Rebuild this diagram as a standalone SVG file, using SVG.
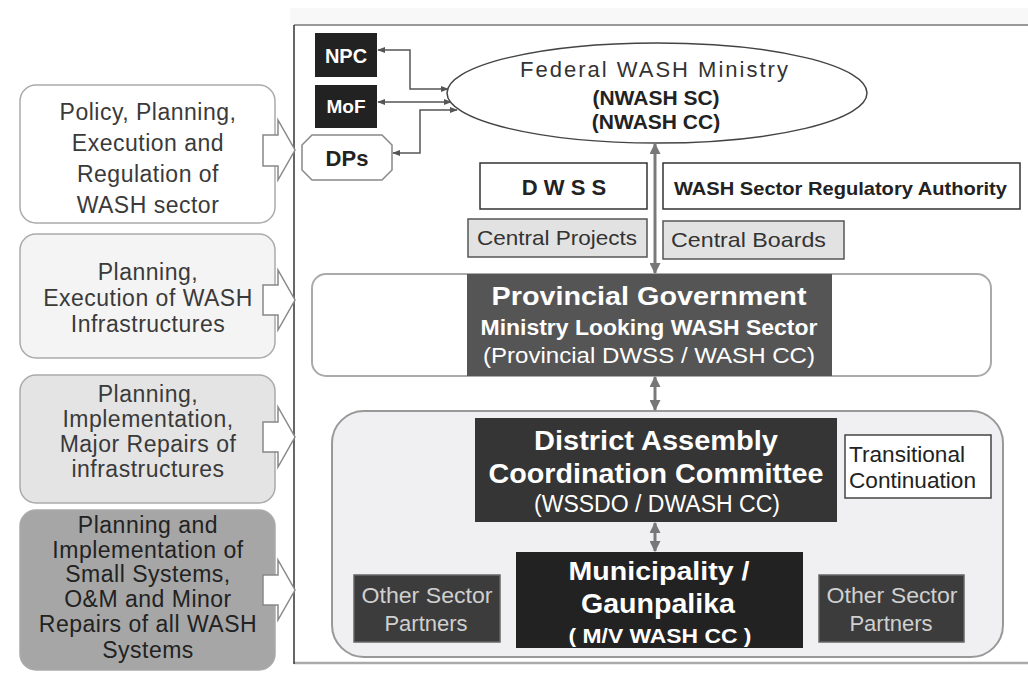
<svg xmlns="http://www.w3.org/2000/svg" width="1028" height="675" viewBox="0 0 1028 675">
<defs>
<style>
.t{font-family:"Liberation Sans",Arial,sans-serif;}
.lp{font-family:"Liberation Sans",Arial,sans-serif;font-size:23px;fill:#3a3a3a;text-anchor:middle;letter-spacing:0.5px;}
.wb{font-family:"Liberation Sans",Arial,sans-serif;font-weight:bold;fill:#fff;text-anchor:middle;}
.wn{font-family:"Liberation Sans",Arial,sans-serif;font-weight:normal;fill:#fff;text-anchor:middle;}
.lbox{stroke:#aaa;stroke-width:1.5;}
.barrow{fill:#fff;stroke:#888;stroke-width:1.5;}
.conn{fill:none;stroke:#555;stroke-width:1.5;}
.vconn{fill:none;stroke:#7a7a7a;stroke-width:3;}
</style>
<marker id="ah" viewBox="0 0 10 10" refX="9" refY="5" markerWidth="8" markerHeight="8" orient="auto-start-reverse" markerUnits="userSpaceOnUse"><path d="M0,1 L10,5 L0,9 z" fill="#555"/></marker>
<marker id="vh" viewBox="0 0 10 10" refX="9" refY="5" markerWidth="11" markerHeight="11" orient="auto-start-reverse" markerUnits="userSpaceOnUse"><path d="M0,0 L10,5 L0,10 z" fill="#777"/></marker>
</defs>
<rect x="0" y="0" width="1028" height="675" fill="#fff"/>
<rect x="290" y="8" width="738" height="16" fill="#f8f8f8"/>
<g id="frame">
<line x1="294" y1="25" x2="1028" y2="25" stroke="#999" stroke-width="2"/>
<line x1="294" y1="663" x2="1028" y2="663" stroke="#aaa" stroke-width="2.5"/>
<line x1="294" y1="25" x2="294" y2="664" stroke="#333" stroke-width="1.5"/>
</g>
<g id="level1">
<rect class="lbox" x="20" y="85" width="255" height="138" rx="16" fill="#fff"/>
<text class="lp" x="148" y="120">Policy, Planning,</text>
<text class="lp" x="148" y="151">Execution and</text>
<text class="lp" x="148" y="182">Regulation of</text>
<text class="lp" x="148" y="213">WASH sector</text>
<path class="barrow" d="M263,135 H278 V120 L295,150 L278,180 V166 H263 Z"/>
</g>
<g id="level2">
<rect class="lbox" x="20" y="234" width="255" height="124" rx="16" fill="#f4f4f4"/>
<text class="lp" x="148" y="280">Planning,</text>
<text class="lp" x="148" y="306">Execution of WASH</text>
<text class="lp" x="148" y="332">Infrastructures</text>
<path class="barrow" d="M263,285 H278 V270 L295,300 L278,330 V315 H263 Z"/>
</g>
<g id="level3">
<rect class="lbox" x="20" y="375" width="255" height="128" rx="16" fill="#e4e4e4"/>
<text class="lp" x="148" y="402">Planning,</text>
<text class="lp" x="148" y="427">Implementation,</text>
<text class="lp" x="148" y="452">Major Repairs of</text>
<text class="lp" x="148" y="477">infrastructures</text>
<path class="barrow" d="M263,422 H278 V407 L295,437 L278,467 V452 H263 Z"/>
</g>
<g id="level4">
<rect class="lbox" x="20" y="510" width="255" height="160" rx="16" fill="#a6a6a6" stroke="#8a8a8a"/>
<text class="lp" x="148" y="533" style="fill:#222">Planning and</text>
<text class="lp" x="148" y="558" style="fill:#222">Implementation of</text>
<text class="lp" x="148" y="582" style="fill:#222">Small Systems,</text>
<text class="lp" x="148" y="607" style="fill:#222">O&amp;M and Minor</text>
<text class="lp" x="148" y="632" style="fill:#222">Repairs of all WASH</text>
<text class="lp" x="148" y="658" style="fill:#222">Systems</text>
<path class="barrow" d="M263,575 H278 V560 L295,590 L278,620 V605 H263 Z"/>
</g>
<g id="provincial-row">
<rect x="312" y="274" width="679" height="102" rx="14" fill="#fff" stroke="#aaa" stroke-width="2"/>
</g>
<g id="district-row">
<rect x="332" y="411" width="671" height="246" rx="32" fill="#f0f0f2" stroke="#999" stroke-width="2"/>
</g>
<g id="npc">
<rect x="315" y="33" width="62" height="44" fill="#222"/>
<text class="wb" x="346" y="63" font-size="20">NPC</text>
</g>
<g id="mof">
<rect x="315" y="85" width="62" height="43" fill="#222"/>
<text class="wb" x="346" y="113" font-size="19">MoF</text>
</g>
<g id="dps">
<polygon points="312,135 382,135 392,145 392,170 382,180 312,180 302,170 302,145" fill="#fff" stroke="#888" stroke-width="1.5"/>
<text class="t" x="347" y="166" font-size="22" font-weight="bold" text-anchor="middle" fill="#222">DPs</text>
</g>
<g id="federal">
<ellipse cx="657" cy="93" rx="210" ry="50" fill="#fff" stroke="#444" stroke-width="1.5"/>
<text class="t" x="655" y="77" font-size="22" text-anchor="middle" fill="#333" letter-spacing="2">Federal  WASH Ministry</text>
<text class="t" x="656" y="105" font-size="21" font-weight="bold" text-anchor="middle" fill="#222">(NWASH SC)</text>
<text class="t" x="656" y="129" font-size="21" font-weight="bold" text-anchor="middle" fill="#222">(NWASH CC)</text>
</g>
<g id="dwss">
<rect x="480" y="163" width="167" height="46" fill="#fff" stroke="#333" stroke-width="1.5"/>
<text class="t" x="564" y="195" font-size="22" font-weight="bold" text-anchor="middle" fill="#222">D W S S</text>
</g>
<g id="regulatory">
<rect x="663" y="163" width="357" height="46" fill="#fff" stroke="#333" stroke-width="1.5"/>
<text class="t" x="674" y="195" font-size="19" font-weight="bold" fill="#222" textLength="333" lengthAdjust="spacingAndGlyphs">WASH Sector Regulatory Authority</text>
</g>
<g id="central-projects">
<rect x="468" y="219" width="179" height="38" fill="#e2e2e2" stroke="#555" stroke-width="1.5"/>
<text class="t" x="477" y="245" font-size="21" fill="#333" textLength="160" lengthAdjust="spacingAndGlyphs">Central Projects</text>
</g>
<g id="central-boards">
<rect x="663" y="221" width="181" height="38" fill="#e2e2e2" stroke="#555" stroke-width="1.5"/>
<text class="t" x="671" y="247" font-size="21" fill="#333" textLength="155" lengthAdjust="spacingAndGlyphs">Central Boards</text>
</g>
<g id="provincial">
<rect x="467" y="274" width="365" height="102" fill="#555"/>
<text class="wb" x="649" y="305" font-size="26" textLength="315" lengthAdjust="spacingAndGlyphs">Provincial Government</text>
<text class="wb" x="649" y="335" font-size="22" textLength="337" lengthAdjust="spacingAndGlyphs">Ministry Looking WASH Sector</text>
<text class="wn" x="649" y="363" font-size="22" textLength="332" lengthAdjust="spacingAndGlyphs">(Provincial DWSS / WASH CC)</text>
</g>
<g id="district">
<rect x="475" y="418" width="362" height="104" fill="#353535"/>
<text class="wb" x="656" y="450" font-size="27" textLength="244" lengthAdjust="spacingAndGlyphs">District Assembly</text>
<text class="wb" x="656" y="483" font-size="27" textLength="335" lengthAdjust="spacingAndGlyphs">Coordination Committee</text>
<text class="wn" x="657" y="512" font-size="23" textLength="246" lengthAdjust="spacingAndGlyphs">(WSSDO / DWASH CC)</text>
</g>
<g id="transitional">
<rect x="845" y="435" width="146" height="63" fill="#fff" stroke="#444" stroke-width="1.5"/>
<text class="t" x="849" y="462" font-size="22" fill="#222" textLength="116" lengthAdjust="spacingAndGlyphs">Transitional</text>
<text class="t" x="849" y="488" font-size="22" fill="#222" textLength="127" lengthAdjust="spacingAndGlyphs">Continuation</text>
</g>
<g id="municipality">
<rect x="516" y="552" width="287" height="96" fill="#222"/>
<text class="wb" x="659" y="580" font-size="26" textLength="181" lengthAdjust="spacingAndGlyphs">Municipality /</text>
<text class="wb" x="658" y="613" font-size="27" textLength="154" lengthAdjust="spacingAndGlyphs">Gaunpalika</text>
<text class="wb" x="660" y="643" font-size="21" textLength="183" lengthAdjust="spacingAndGlyphs">( M/V WASH CC )</text>
</g>
<g id="partners-left">
<rect x="354" y="575" width="146" height="67" fill="#3c3c3c" stroke="#666" stroke-width="1.5"/>
<text class="t" x="427" y="603" font-size="22" fill="#d0d0d0" text-anchor="middle" textLength="131" lengthAdjust="spacingAndGlyphs">Other Sector</text>
<text class="t" x="426" y="631" font-size="22" fill="#d0d0d0" text-anchor="middle">Partners</text>
</g>
<g id="partners-right">
<rect x="819" y="575" width="145" height="67" fill="#3c3c3c" stroke="#666" stroke-width="1.5"/>
<text class="t" x="892" y="603" font-size="22" fill="#d0d0d0" text-anchor="middle" textLength="131" lengthAdjust="spacingAndGlyphs">Other Sector</text>
<text class="t" x="891" y="631" font-size="22" fill="#d0d0d0" text-anchor="middle">Partners</text>
</g>
<g id="connectors">
<path class="conn" d="M378,50 H410 V89 H448" marker-start="url(#ah)" marker-end="url(#ah)"/>
<path class="conn" d="M378,102 H451" marker-start="url(#ah)" marker-end="url(#ah)"/>
<path class="conn" d="M393,153 H420 V110 H457" marker-start="url(#ah)" marker-end="url(#ah)"/>
<path class="vconn" d="M655,144 V273" marker-start="url(#vh)" marker-end="url(#vh)"/>
<path class="vconn" d="M655,377 V410" marker-start="url(#vh)" marker-end="url(#vh)"/>
<path class="vconn" d="M655,523 V551" marker-start="url(#vh)" marker-end="url(#vh)"/>
</g>
</svg>
